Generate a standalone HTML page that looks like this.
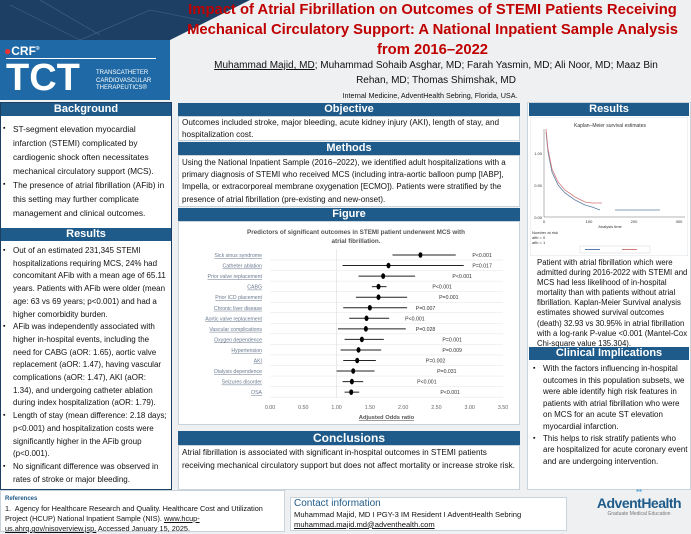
<!DOCTYPE html>
<html><head><meta charset="utf-8">
<style>
*{margin:0;padding:0;box-sizing:border-box}
body{width:691px;height:532px;overflow:hidden;background:#eef0f2;font-family:"Liberation Sans",sans-serif;position:relative;color:#111}
.abs{position:absolute}
.hdr{position:absolute;background:#1f5b8a;color:#fff;font-weight:bold;font-size:11px;text-align:center;line-height:13px}
.box{position:absolute;background:#fff;border:1px solid #c9d3dc}
.t{font-size:8.2px;line-height:12.2px}
ul{list-style:none}
li{position:relative;padding-left:10px}
li:before{content:"▪";position:absolute;left:0;font-size:7px}
</style></head><body>
<svg class="abs" style="left:0;top:0" width="691" height="110">
<polygon points="0,0 250,0 150,50 130,100 0,100" fill="#1c3f63"/>
<g stroke="#5f82a8" stroke-width="0.6" opacity="0.6"><line x1="10" y1="5" x2="80" y2="40"/><line x1="80" y1="40" x2="150" y2="10"/><line x1="40" y1="0" x2="100" y2="35"/><line x1="150" y1="10" x2="200" y2="20"/></g>
<rect x="0" y="40" width="170" height="60" fill="#1f6aa6"/>
</svg>
<div class="abs" style="left:4px;top:44px;color:#fff;font-size:12px;font-weight:bold"><span style="color:#e33">●</span>CRF<sup style="font-size:5px">®</sup></div>
<div class="abs" style="left:6px;top:58px;width:150px;border-top:1px solid #fff"></div>
<div class="abs" style="left:6px;top:58px;color:#fff;font-size:38px;font-weight:bold;line-height:40px">TCT</div>
<div class="abs" style="left:96px;top:70px;color:#fff;font-size:6px;line-height:7.5px">TRANSCATHETER<br>CARDIOVASCULAR<br>THERAPEUTICS®</div>
<div class="abs" style="left:175px;top:0;width:515px;text-align:center;color:#c00000;font-weight:bold;font-size:14.8px;line-height:20px">Impact of Atrial Fibrillation on Outcomes of STEMI Patients Receiving<br>Mechanical Circulatory Support: A National Inpatient Sample Analysis<br>from 2016–2022</div>
<div class="abs" style="left:176px;top:58px;width:520px;text-align:center;font-size:10px;line-height:15px;white-space:nowrap"><u>Muhammad Majid, MD</u>; Muhammad Sohaib Asghar, MD; Farah Yasmin, MD; Ali Noor, MD; Maaz Bin<br>Rehan, MD; Thomas Shimshak, MD</div>
<div class="abs" style="left:170px;top:91px;width:520px;text-align:center;font-size:7.2px">Internal Medicine, AdventHealth Sebring, Florida, USA.</div>

<div class="box" style="left:0;top:102px;width:172px;height:388px;border:1px solid #1c3f63"></div>
<div class="hdr" style="left:1px;top:103px;width:170px">Background</div>
<ul class="abs t" style="left:3px;top:122px;width:165px;font-size:8.3px;line-height:14px">
<li>ST-segment elevation myocardial infarction (STEMI) complicated by cardiogenic shock often necessitates mechanical circulatory support (MCS).</li>
<li>The presence of atrial fibrillation (AFib) in this setting may further complicate management and clinical outcomes.</li></ul>
<div class="hdr" style="left:1px;top:228px;width:170px">Results</div>
<ul class="abs t" style="left:3px;top:245px;width:165px;font-size:8px;line-height:12.7px">
<li>Out of an estimated 231,345 STEMI hospitalizations requiring MCS, 24% had concomitant AFib with a mean age of 65.11 years. Patients with AFib were older (mean age: 63 vs 69 years; p&lt;0.001) and had a higher comorbidity burden.</li>
<li>AFib was independently associated with higher in-hospital events, including the need for CABG (aOR: 1.65), aortic valve replacement (aOR: 1.47), having vascular complications (aOR: 1.47), AKI (aOR: 1.34), and undergoing catheter ablation during index hospitalization (aOR: 1.79).</li>
<li>Length of stay (mean difference: 2.18 days; p&lt;0.001) and hospitalization costs were significantly higher in the AFib group (p&lt;0.001).</li>
<li>No significant difference was observed in rates of stroke or major bleeding.</li></ul>

<div class="hdr" style="left:178px;top:103px;width:342px">Objective</div>
<div class="box t" style="left:178px;top:116px;width:342px;height:25px;padding:0 3px">Outcomes included stroke, major bleeding, acute kidney injury (AKI), length of stay, and hospitalization cost.</div>
<div class="hdr" style="left:178px;top:142px;width:342px">Methods</div>
<div class="box t" style="left:178px;top:155px;width:342px;height:52px;padding:1px 3px;font-size:8px">Using the National Inpatient Sample (2016–2022), we identified adult hospitalizations with a primary diagnosis of STEMI who received MCS (including intra-aortic balloon pump [IABP], Impella, or extracorporeal membrane oxygenation [ECMO]). Patients were stratified by the presence of atrial fibrillation (pre-existing and new-onset).</div>
<div class="hdr" style="left:178px;top:208px;width:342px">Figure</div>
<div class="box" style="left:178px;top:221px;width:342px;height:204px"></div>
<svg id="forest" class="abs" style="left:178px;top:221px" width="342" height="204"></svg>

<div class="hdr" style="left:178px;top:431px;width:342px;font-size:12px;line-height:14px">Conclusions</div>
<div class="box t" style="left:178px;top:445px;width:342px;height:45px;padding:0 3px;line-height:13px">Atrial fibrillation is associated with significant in-hospital outcomes in STEMI patients receiving mechanical circulatory support but does not affect mortality or increase stroke risk.</div>

<div class="box" style="left:527px;top:102px;width:164px;height:388px"></div>
<div class="hdr" style="left:529px;top:103px;width:160px">Results</div>
<svg class="abs" style="left:530px;top:117px" width="158" height="139">
<rect x="0" y="0" width="158" height="139" fill="#fff" stroke="#dde4ea"/>
<text x="80" y="10" font-size="5" text-anchor="middle" fill="#333">Kaplan–Meier survival estimates</text>
<g stroke="#444" stroke-width="0.4"><line x1="14" y1="12" x2="14" y2="100"/><line x1="14" y1="100" x2="155" y2="100"/></g>
<g font-size="4" fill="#333"><text x="12" y="102" text-anchor="end">0.00</text><text x="12" y="70" text-anchor="end">0.50</text><text x="12" y="38" text-anchor="end">1.00</text>
<text x="14" y="106" text-anchor="middle">0</text><text x="59" y="106" text-anchor="middle">100</text><text x="104" y="106" text-anchor="middle">200</text><text x="149" y="106" text-anchor="middle">300</text><text x="80" y="111" text-anchor="middle">Analysis time</text>
<text x="2" y="117">Number at risk</text><text x="2" y="122">afib = 0</text><text x="2" y="127">afib = 1</text></g>
<path d="M16,15 L18,35 L22,55 L28,68 L35,76 L45,83 L55,88 L62,90 L70,93" fill="none" stroke="#5b7fa8" stroke-width="0.8"/>
<path d="M16,12 L18,32 L22,52 L28,65 L35,73 L45,80 L55,85 L62,86 L72,86" fill="none" stroke="#d27a7a" stroke-width="0.8"/>
<line x1="85" y1="93" x2="130" y2="93" stroke="#5b7fa8" stroke-width="0.8"/>
<rect x="50" y="129" width="70" height="7" fill="#fff" stroke="#bbb" stroke-width="0.3"/>
<line x1="55" y1="132.5" x2="70" y2="132.5" stroke="#5b7fa8"/><line x1="92" y1="132.5" x2="107" y2="132.5" stroke="#d27a7a"/>
</svg>
<div class="abs t" style="left:537px;top:258px;width:152px;font-size:7.8px;line-height:10.1px">Patient with atrial fibrillation which were admitted during 2016-2022 with STEMI and MCS had less likelihood of in-hospital mortality than with patients without atrial fibrillation. Kaplan-Meier Survival analysis estimates showed survival outcomes (death) 32.93 vs 30.95% in atrial fibrillation with a log-rank P-value &lt;0.001 (Mantel-Cox Chi-square value 135.304).</div>
<div class="hdr" style="left:529px;top:347px;width:160px">Clinical Implications</div>
<ul class="abs t" style="left:533px;top:363px;width:156px;font-size:8px;line-height:11.6px">
<li>With the factors influencing in-hospital outcomes in this population subsets, we were able identify high risk features in patients with atrial fibrillation who were on MCS for an acute ST elevation myocardial infarction.</li>
<li>This helps to risk stratify patients who are hospitalized for acute coronary event and are undergoing intervention.</li></ul>

<div class="box" style="left:0;top:490px;width:285px;height:42px;padding:2px 4px;font-size:7.3px;line-height:10px"><b style="color:#1f5b8a;font-size:6px">References</b><br>1.&nbsp; Agency for Healthcare Research and Quality. Healthcare Cost and Utilization Project (HCUP) National Inpatient Sample (NIS). <u>www.hcup-us.ahrq.gov/nisoverview.jsp.</u> Accessed January 15, 2025.</div>
<div class="box" style="left:290px;top:497px;width:277px;height:34px;padding:0 3px;font-size:7.6px;line-height:9.5px"><span style="color:#1f5b8a;font-size:10px;line-height:12px">Contact information</span><br>Muhammad Majid, MD I PGY-3 IM Resident I AdventHealth Sebring<br><u>muhammad.majid.md@adventhealth.com</u></div>
<div class="abs" style="left:596px;top:487px;width:86px;text-align:center"><div style="color:#4aa0d6;font-size:8px;line-height:8px">▪▪</div><div style="color:#1f5b8a;font-weight:bold;font-size:14px;letter-spacing:-0.5px">AdventHealth</div><div style="color:#777;font-size:5px">Graduate Medical Education</div></div>

<script>
const labels=["Sick sinus syndrome","Catheter ablation","Prior valve replacement","CABG","Prior ICD placement","Chronic liver disease","Aortic valve replacement","Vascular complications","Oxygen dependence","Hypertension","AKI","Dialysis dependence","Seizures disorder","OSA"];
const estimates=[2.26,1.78,1.70,1.63,1.63,1.50,1.45,1.44,1.38,1.33,1.31,1.25,1.23,1.22];
const lowerCI=[1.84,1.09,1.33,1.53,1.29,1.10,1.19,1.02,1.12,1.06,1.10,1.00,1.09,1.12];
const upperCI=[2.79,2.91,2.18,1.75,2.06,2.06,1.79,2.04,1.71,1.67,1.59,1.57,1.40,1.34];
const pLabels=["P<0.001","P=0.017","P<0.001","P<0.001","P=0.001","P=0.007","P<0.001","P=0.028","P=0.001","P=0.009","P=0.002","P=0.031","P<0.001","P<0.001"];
const pLabelPos=[3.04,3.04,2.74,2.44,2.54,2.19,2.03,2.19,2.59,2.59,2.34,2.51,2.21,2.56];
const xTicks=[0,0.5,1,1.5,2,2.5,3,3.5];
const svg=document.getElementById('forest');const NS="http://www.w3.org/2000/svg";
const X=v=>92+v*66.57;const Y=i=>34+i*10.55;
function mk(t,a,txt){const e=document.createElementNS(NS,t);for(const k in a)e.setAttribute(k,a[k]);if(txt!==undefined)e.textContent=txt;svg.appendChild(e);return e;}
let e;
e=mk('text',{x:178,y:13,'font-size':6.3,'font-weight':'bold','text-anchor':'middle',fill:'#555'},'Predictors of significant outcomes in STEMI patient underwent MCS with');


e=mk('text',{x:178,y:22,'font-size':6.3,'font-weight':'bold','text-anchor':'middle',fill:'#555'},'atrial fibrillation.');


labels.forEach((l,i)=>{mk('line',{x1:X(0),x2:X(3.5),y1:Y(i)+5,y2:Y(i)+5,stroke:'#e4e4e4','stroke-width':0.5});});
mk('line',{x1:X(1),x2:X(1),y1:Y(0)-6,y2:Y(13)+6,stroke:'#ddd','stroke-width':0.6});
labels.forEach((l,i)=>{
e=mk('text',{x:X(0)-8,y:Y(i)+2,'font-size':5.2,'text-anchor':'end',fill:'#6a7a90','text-decoration':'underline'},l);


e=mk('line',{x1:X(lowerCI[i]),x2:X(upperCI[i]),y1:Y(i),y2:Y(i),stroke:'#222','stroke-width':1});


e=mk('ellipse',{cx:X(estimates[i]),cy:Y(i),rx:2,ry:2.8,fill:'#000'});


e=mk('text',{x:X(pLabelPos[i]),y:Y(i)+2,'font-size':5.2,fill:'#333'},pLabels[i]);


});
xTicks.forEach(v=>{e=mk('text',{x:X(v),y:188,'font-size':5.3,'text-anchor':'middle',fill:'#666'},v.toFixed(2));

});
e=mk('text',{x:X(1.75),y:198,'font-size':5.8,'font-weight':'bold','text-anchor':'middle',fill:'#555','text-decoration':'underline'},'Adjusted Odds ratio');


</script>
</body></html>
